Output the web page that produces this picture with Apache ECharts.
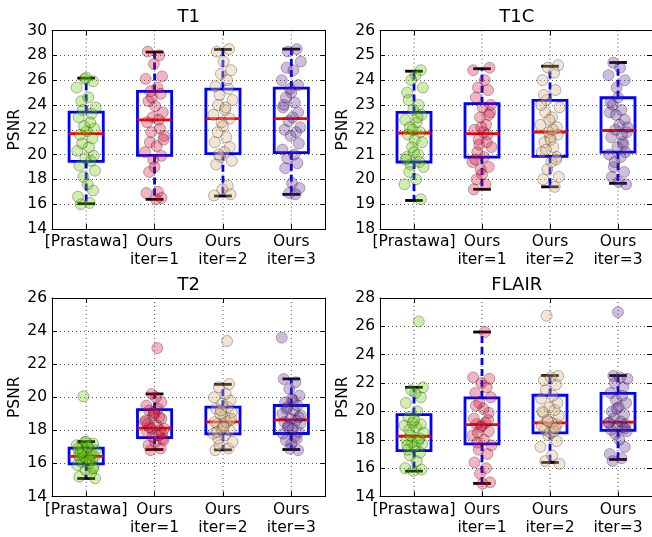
<!DOCTYPE html>
<html><head><meta charset="utf-8">
<script src="https://cdn.jsdelivr.net/npm/echarts@6/dist/echarts.min.js"></script>
<style>html,body{margin:0;padding:0;background:#fff}#c{width:652px;height:537px}</style>
</head><body><div id="c"></div>
<script>
// ---------------- data ----------------
const categories = ['[Prastawa]', 'Ours\niter=1', 'Ours\niter=2', 'Ours\niter=3'];
const panelTitles = ['T1', 'T1C', 'T2', 'FLAIR'];
const yMin = [14, 18, 14, 14];
const yMax = [30, 26, 26, 28];
const yStep = [2, 1, 2, 2];

// box statistics per group: [lower cap, Q1, median, Q3, upper cap]
const t1Box = [[16.04, 19.45, 21.68, 23.42, 26.16], [16.39, 19.93, 22.80, 25.09, 28.26], [16.66, 20.07, 22.89, 25.28, 28.47], [16.79, 20.15, 22.89, 25.36, 28.50]];
const t1cBox = [[19.15, 20.70, 21.87, 22.70, 24.36], [19.60, 20.90, 21.84, 23.05, 24.46], [19.70, 20.93, 21.91, 23.18, 24.56], [19.84, 21.10, 21.97, 23.29, 24.71]];
const t2Box = [[15.09, 15.97, 16.42, 16.92, 17.32], [16.84, 17.56, 18.13, 19.25, 20.20], [16.82, 17.79, 18.51, 19.40, 20.78], [16.84, 17.81, 18.63, 19.50, 21.11]];
const flairBox = [[15.79, 17.24, 18.25, 19.78, 21.70], [14.92, 17.71, 19.07, 20.95, 25.60], [16.40, 18.49, 19.19, 21.14, 22.53], [16.61, 18.67, 19.24, 21.28, 22.53]];

// individual PSNR values per group
const t1Prastawa = [16.0, 16.1, 16.6, 17.1, 17.6, 18.2, 18.7, 19.1, 19.5, 19.7, 19.9, 20.3, 20.6, 20.9, 21.3, 21.6, 21.9, 22.1, 22.3, 22.6, 23.0, 23.3, 23.6, 23.8, 24.3, 24.6, 25.4, 25.9, 26.1, 26.2];
const t1Iter1 = [28.3, 28.0, 27.3, 26.3, 26.1, 25.4, 25.1, 24.9, 24.3, 23.9, 23.4, 23.0, 22.8, 22.6, 22.1, 21.8, 21.5, 21.0, 20.7, 20.2, 19.9, 19.6, 19.0, 18.6, 17.0, 16.9, 16.5, 16.4, 24.6, 21.2];
const t1Iter2 = [28.5, 28.3, 27.5, 26.8, 26.5, 26.0, 25.5, 25.3, 24.8, 24.4, 24.0, 23.6, 23.2, 22.9, 22.6, 22.3, 21.8, 21.4, 21.0, 20.6, 20.2, 19.8, 19.5, 19.2, 17.5, 17.2, 16.8, 16.7, 23.8, 20.0];
const t1Iter3 = [28.5, 28.3, 27.5, 27.0, 26.8, 26.0, 25.6, 25.3, 25.0, 24.6, 24.2, 23.8, 23.4, 23.0, 22.7, 22.2, 22.0, 21.8, 21.5, 20.9, 20.4, 20.0, 19.7, 19.3, 18.9, 17.7, 17.3, 16.9, 16.8, 24.0];

const t1cPrastawa = [24.4, 24.2, 24.0, 23.7, 23.5, 23.0, 22.8, 22.6, 22.4, 22.3, 22.1, 21.9, 21.8, 21.6, 21.5, 21.3, 21.0, 20.9, 20.7, 20.6, 20.5, 20.3, 20.0, 19.8, 19.2, 22.0, 21.1, 23.2, 22.5, 20.8];
const t1cIter1 = [24.5, 24.4, 24.0, 23.7, 23.6, 23.3, 22.9, 22.7, 22.5, 22.2, 22.0, 21.8, 21.6, 21.3, 21.1, 20.9, 20.7, 20.5, 20.4, 20.2, 20.0, 19.8, 19.6, 22.6, 21.9, 21.4, 23.0, 20.8, 21.5, 22.1];
const t1cIter2 = [24.6, 24.5, 24.3, 24.0, 23.6, 23.2, 22.9, 22.7, 22.5, 22.2, 22.1, 21.9, 21.7, 21.5, 21.3, 21.1, 20.9, 20.7, 20.4, 20.1, 20.0, 19.7, 22.4, 21.8, 23.0, 22.0, 21.2, 20.8, 23.4, 21.6];
const t1cIter3 = [24.7, 24.5, 24.2, 24.0, 23.7, 23.3, 23.0, 22.8, 22.7, 22.4, 22.2, 22.0, 21.9, 21.7, 21.5, 21.3, 21.1, 21.0, 20.9, 20.5, 20.3, 20.1, 19.9, 19.8, 22.6, 21.8, 23.1, 21.4, 20.7, 22.1];

const t2Prastawa = [15.1, 15.2, 15.4, 15.6, 15.8, 15.9, 16.0, 16.1, 16.2, 16.3, 16.3, 16.4, 16.4, 16.5, 16.5, 16.6, 16.7, 16.8, 16.9, 17.0, 17.1, 17.2, 17.3, 17.3, 16.6, 16.2, 16.9, 15.7, 17.0, 20.05];
const t2Iter1 = [16.8, 16.9, 17.1, 17.3, 17.5, 17.6, 17.7, 17.9, 18.0, 18.1, 18.1, 18.2, 18.3, 18.5, 18.7, 18.9, 19.0, 19.2, 19.3, 19.5, 19.7, 20.0, 20.2, 17.4, 18.4, 18.8, 19.1, 17.8, 18.6, 22.97];
const t2Iter2 = [16.8, 16.9, 17.1, 17.3, 17.5, 17.7, 17.8, 18.0, 18.1, 18.3, 18.4, 18.5, 18.5, 18.6, 18.8, 19.0, 19.1, 19.3, 19.4, 19.6, 19.8, 20.0, 20.2, 20.6, 20.8, 17.9, 18.2, 18.7, 19.2, 23.4];
const t2Iter3 = [16.8, 16.9, 17.2, 17.4, 17.6, 17.8, 17.9, 18.1, 18.3, 18.4, 18.5, 18.6, 18.7, 18.8, 19.0, 19.2, 19.4, 19.5, 19.7, 19.9, 20.1, 20.5, 20.9, 21.1, 17.5, 18.2, 18.9, 19.3, 19.8, 23.6];

const flairPrastawa = [15.8, 15.9, 16.0, 16.5, 16.9, 17.1, 17.3, 17.5, 17.7, 17.8, 17.9, 18.0, 18.1, 18.3, 18.5, 18.7, 18.9, 19.0, 19.1, 19.2, 19.4, 19.6, 20.0, 20.6, 21.0, 21.3, 21.5, 21.7, 17.6, 26.35];
const flairIter1 = [14.9, 15.0, 15.6, 16.0, 16.4, 17.0, 17.3, 17.6, 17.8, 18.0, 18.3, 18.6, 18.9, 19.0, 19.1, 19.2, 19.5, 19.9, 20.2, 20.6, 21.0, 21.3, 21.7, 22.0, 22.3, 22.4, 25.6, 18.5, 19.4, 20.4];
const flairIter2 = [16.3, 16.5, 16.9, 17.5, 17.9, 18.3, 18.5, 18.7, 18.9, 19.0, 19.1, 19.2, 19.4, 19.7, 19.9, 20.1, 20.3, 20.6, 20.9, 21.1, 21.5, 21.9, 22.2, 22.4, 22.5, 19.3, 18.6, 20.0, 18.8, 26.75];
const flairIter3 = [16.5, 16.7, 17.0, 17.5, 18.0, 18.4, 18.6, 18.7, 18.9, 19.0, 19.1, 19.2, 19.3, 19.5, 19.8, 20.0, 20.3, 20.6, 20.8, 21.1, 21.3, 21.7, 22.0, 22.3, 22.5, 22.4, 19.2, 18.8, 20.2, 27.0];

// horizontal jitter (in category units) used for the scatter points
const jitter = [-0.08, 0.05, -0.12, 0.10, 0.02, -0.04, 0.13, -0.10, 0.07, -0.01, 0.11, -0.13, 0.04, -0.06, 0.09, -0.09, 0.01, 0.12, -0.03, 0.06, -0.11, 0.08, -0.05, 0.14, -0.07, 0.03, -0.14, 0.10, -0.02, 0.00];

// ---------------- layout / style ----------------
const panelBoxes = [t1Box, t1cBox, t2Box, flairBox];
const panelPoints = [
  [t1Prastawa, t1Iter1, t1Iter2, t1Iter3],
  [t1cPrastawa, t1cIter1, t1cIter2, t1cIter3],
  [t2Prastawa, t2Iter1, t2Iter2, t2Iter3],
  [flairPrastawa, flairIter1, flairIter2, flairIter3]
];
const gridLeft = [52, 380, 52, 380];
const gridTop = [30.5, 30.5, 298, 298];
const gridW = 273.5, gridH = 198.5;
const pointFill = ['rgba(102,204,0,0.4)', 'rgba(220,20,60,0.4)', 'rgba(222,184,135,0.45)', 'rgba(102,51,153,0.4)'];
const FONT = 'DejaVu Sans';
const FS = 15.5;

const grids = [], xAxes = [], yAxes = [], series = [], titles = [];
for (let p = 0; p < 4; p++) {
  grids.push({left: gridLeft[p], top: gridTop[p], width: gridW, height: gridH, containLabel: false});
  titles.push({
    text: panelTitles[p], left: gridLeft[p] + gridW / 2, top: gridTop[p] - 22, textAlign: 'center', padding: 0,
    textStyle: {fontFamily: FONT, fontSize: 18, fontWeight: 'normal', color: '#000'}
  });
  const tickStyle = {show: true, inside: true, alignWithLabel: true, length: 5, lineStyle: {color: '#000', width: 1}};
  xAxes.push({
    type: 'category', gridIndex: p, position: 'bottom', data: categories, boundaryGap: true,
    axisLine: {lineStyle: {color: '#000', width: 1}}, axisTick: tickStyle,
    axisLabel: {interval: 0, margin: 4, color: '#000', fontFamily: FONT, fontSize: FS, lineHeight: 18, align: 'center'},
    splitLine: {show: false}
  });
  xAxes.push({
    type: 'category', gridIndex: p, position: 'top', data: categories, boundaryGap: true,
    axisLine: {lineStyle: {color: '#000', width: 1}}, axisTick: tickStyle,
    axisLabel: {show: false}, splitLine: {show: false}
  });
  xAxes.push({type: 'value', gridIndex: p, min: 0.5, max: 4.5, show: false});
  const yTick = {show: true, inside: true, length: 5, lineStyle: {color: '#000', width: 1}};
  yAxes.push({
    type: 'value', gridIndex: p, position: 'left', min: yMin[p], max: yMax[p], interval: yStep[p],
    name: 'PSNR', nameLocation: 'middle', nameGap: 26,
    nameTextStyle: {fontFamily: FONT, fontSize: FS, color: '#000'},
    axisLine: {show: true, lineStyle: {color: '#000', width: 1}}, axisTick: yTick,
    axisLabel: {margin: 5, color: '#000', fontFamily: FONT, fontSize: FS},
    splitLine: {show: true, lineStyle: {color: '#444', width: 0.9, type: [1, 3]}}
  });
  yAxes.push({
    type: 'value', gridIndex: p, position: 'right', min: yMin[p], max: yMax[p], interval: yStep[p],
    axisLine: {show: true, lineStyle: {color: '#000', width: 1}}, axisTick: yTick,
    axisLabel: {show: false}, splitLine: {show: false}
  });

  series.push({
    type: 'custom', xAxisIndex: 3 * p + 2, yAxisIndex: 2 * p, z: 2,
    data: panelBoxes[p].map((b, g) => [g + 1].concat(b)),
    encode: {x: 0, y: [1, 2, 3, 4, 5]},
    renderItem: function (params, api) {
      const x = api.value(0);
      const lo = api.value(1), q1 = api.value(2), md = api.value(3), q3 = api.value(4), hi = api.value(5);
      const cs = params.coordSys;
      const c = (xx, yy) => api.coord([xx, yy]);
      const gx = c(x, md)[0];
      const lw = 2.8;
      const blue = '#0000ff';
      const kids = [];
      kids.push({type: 'line', shape: {x1: gx, y1: cs.y, x2: gx, y2: cs.y + cs.height},
        style: {stroke: '#444', lineWidth: 0.9, lineDash: [1, 3]}});
      const wh = (ya, yb) => ({type: 'line', shape: {x1: gx, y1: c(x, ya)[1], x2: gx, y2: c(x, yb)[1]},
        style: {stroke: blue, lineWidth: lw, lineDash: [7, 4]}});
      kids.push(wh(q3, hi));
      kids.push(wh(q1, lo));
      const hl = (yy, half, col) => {
        const a = c(x - half, yy), b = c(x + half, yy);
        return {type: 'line', shape: {x1: a[0], y1: a[1], x2: b[0], y2: b[1]}, style: {stroke: col, lineWidth: lw}};
      };
      const tl = c(x - 0.25, q3), br = c(x + 0.25, q1);
      kids.push({type: 'rect', shape: {x: tl[0], y: tl[1], width: br[0] - tl[0], height: br[1] - tl[1]},
        style: {fill: 'none', stroke: blue, lineWidth: lw}});
      kids.push(hl(md, 0.25, '#ff0000'));
      kids.push(hl(hi, 0.13, '#000'));
      kids.push(hl(lo, 0.13, '#000'));
      return {type: 'group', children: kids};
    }
  });

  for (let g = 0; g < 4; g++) {
    const vals = panelPoints[p][g];
    series.push({
      type: 'scatter', xAxisIndex: 3 * p + 2, yAxisIndex: 2 * p, z: 3,
      symbol: 'circle', symbolSize: 11,
      itemStyle: {color: pointFill[g], borderColor: 'rgba(0,0,0,0.35)', borderWidth: 1},
      emphasis: {disabled: true},
      data: vals.map((v, k) => [g + 1 + jitter[(k + 7 * g + 3 * p) % jitter.length], v])
    });
  }
}

const chart = echarts.init(document.getElementById('c'), null, {renderer: 'canvas'});
chart.setOption({
  animation: false,
  backgroundColor: '#fff',
  title: titles,
  grid: grids,
  xAxis: xAxes,
  yAxis: yAxes,
  series: series
});
</script>
</body></html>
